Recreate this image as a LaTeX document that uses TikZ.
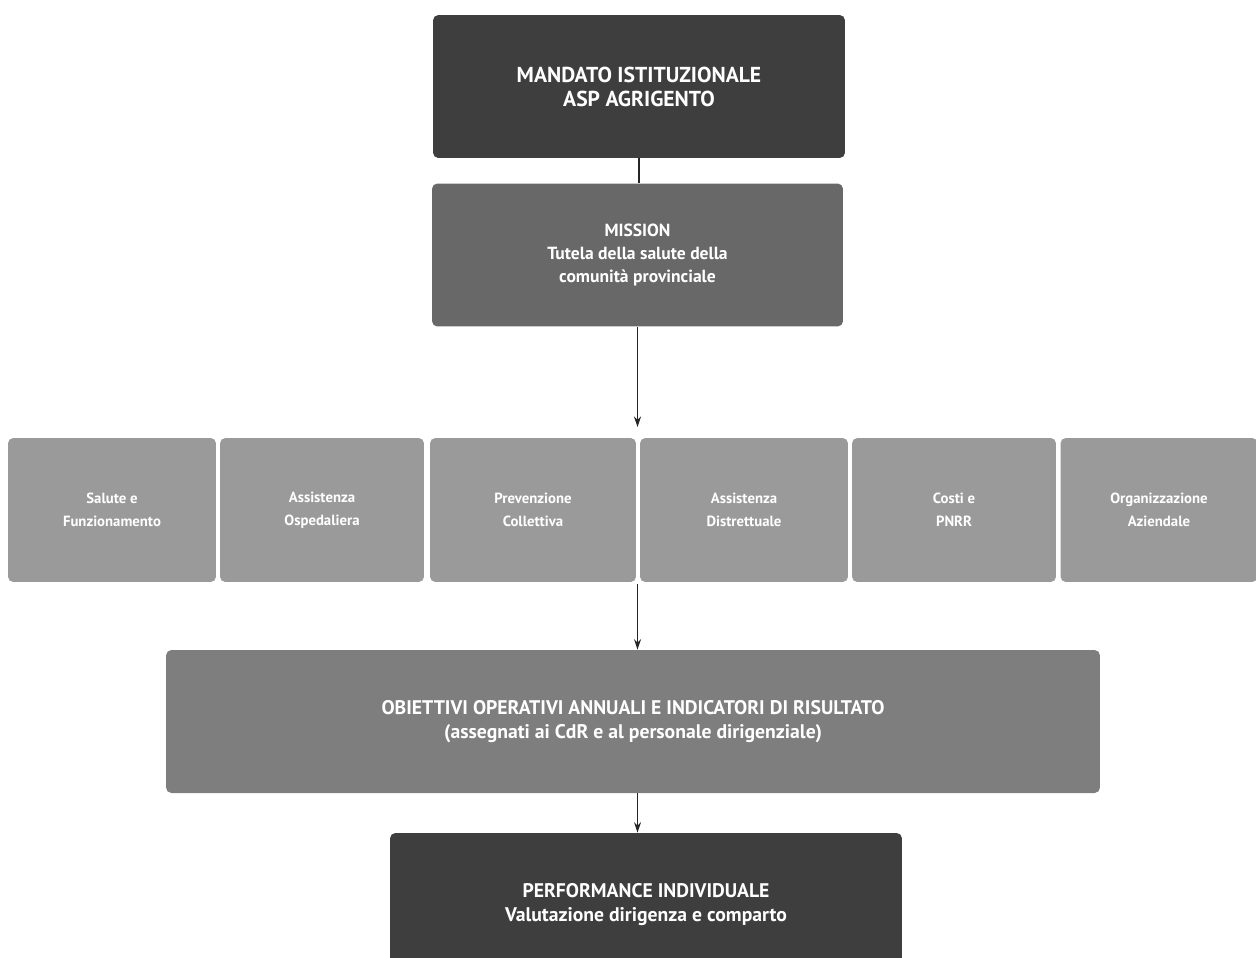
\documentclass[tikz,border=0pt]{standalone}
\usepackage{fontspec}
\setmainfont{PT Sans}
\usetikzlibrary{arrows.meta}
\definecolor{grigioscuro}{HTML}{3E3E3E}
\definecolor{grigiomedio}{HTML}{686868}
\definecolor{grigioobj}{HTML}{7E7E7E}
\definecolor{grigiochiaro}{HTML}{9A9A9A}
\tikzset{
  blocco/.style={fill=#1,rounded corners=3pt,text=white,align=center,font=\bfseries,inner sep=2pt},
  freccia/.style={-{Stealth[length=6pt,width=4pt]},line width=0.7pt,black!85}
}
\begin{document}
\begin{tikzpicture}[x=0.02cm,y=-0.02cm]
% Piano della performance: dal mandato alla valutazione individuale
\useasboundingbox (0,0) rectangle (1256,957);
\node[blocco=grigioscuro,minimum width=8.24cm,minimum height=2.86cm,font=\bfseries\fontsize{12.3}{13.7}\selectfont] (mandato) at (639,86.5) {MANDATO ISTITUZIONALE\\ASP AGRIGENTO};
\node[blocco=grigiomedio,minimum width=8.22cm,minimum height=2.86cm,font=\bfseries\fontsize{10}{13}\selectfont] (mission) at (637.5,255) {MISSION\\Tutela della salute della\\comunità provinciale};
\foreach \i/\cx/\w/\txt in {1/112/4.16/{Salute e\\Funzionamento},2/322/4.08/{Assistenza\\Ospedaliera},3/533/4.12/{Prevenzione\\Collettiva},4/744/4.16/{Assistenza\\Distrettuale},5/954/4.08/{Costi e\\PNRR},6/1159/3.94/{Organizzazione\\Aziendale}} {
  \node[blocco=grigiochiaro,minimum width=\w cm,minimum height=2.88cm,font=\bfseries\fontsize{8.4}{13}\selectfont] (area\i) at (\cx,510) {\txt};
}
\coordinate (sopra) at (637.5,427);
\coordinate (varco) at (637.5,584);
\node[blocco=grigioobj,minimum width=18.68cm,minimum height=2.86cm,font=\bfseries\fontsize{11.2}{13.7}\selectfont] (obiettivi) at (633,721.5) {OBIETTIVI OPERATIVI ANNUALI E INDICATORI DI RISULTATO\\(assegnati ai CdR e al personale dirigenziale)};
\node[blocco=grigioscuro,minimum width=10.24cm,minimum height=2.86cm,font=\bfseries\fontsize{11.2}{13.2}\selectfont] (performance) at (646,904.5) {PERFORMANCE INDIVIDUALE\\Valutazione dirigenza e comparto};
\draw[line width=0.7pt,black!85] (mandato.south) -- (mandato.south|-mission.north);
\draw[freccia] (mission.south) -- (sopra);
\draw[freccia] (varco) -- (varco|-obiettivi.north);
\draw[freccia] (obiettivi.south-|varco) -- (varco|-performance.north);
\end{tikzpicture}
\end{document}
